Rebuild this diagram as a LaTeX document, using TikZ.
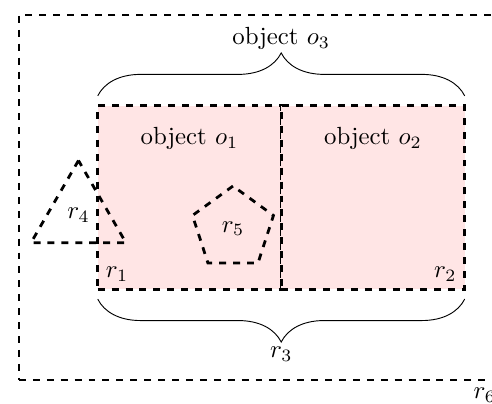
\RequirePackage{fix-cm}
\documentclass[tikz,border=0pt]{standalone}
\usetikzlibrary{shapes.geometric, positioning, decorations.pathreplacing}

\begin{document}
\begin{tikzpicture}[
        font=\fontsize{10.7}{12.8}\selectfont,
        region/.style={draw, very thick, dashed, inner sep=0pt, outer sep=0pt},
        box/.style={region, rectangle, fill=red!10, minimum width=2.78cm, minimum height=2.78cm},
        poly/.style={region, regular polygon},
        bracebig/.style={decorate, decoration={brace, amplitude=0.65cm, raise=0.15cm}}
    ]
    \useasboundingbox (0,0) rectangle (7.455,-6.121);

    \node[region, rectangle, minimum width=7.35cm, minimum height=5.53cm] (r6) at (3.962,-2.992) {};
    \node[box] (r1) at (2.871,-2.992) {};
    \node[box, right=0cm of r1] (r2) {};
    \node[poly, regular polygon sides=3, minimum size=1.66cm] (r4) at (1.189,-3.262) {$r_4$};
    \node[poly, regular polygon sides=5, minimum size=1.29cm] (r5) at (3.530,-3.464) {$r_5$};

    \node[below=0.2cm of r1.north] (o1) {object $o_1$};
    \node[below=0.2cm of r2.north] (o2) {object $o_2$};
    \node[above right] (l1) at (r1.south west) {$r_1$};
    \node[above left] (l2) at (r2.south east) {$r_2$};
    \node[below left] (l6) at (r6.south east) {$r_6$};

    \draw[bracebig] (r1.north west) -- (r2.north east);
    \draw[bracebig] (r2.south east) -- (r1.south west);
    \node[above=0.72cm of r1.north east] (o3) {object $o_3$};
    \node[below=0.75cm of r1.south east] (r3) {$r_3$};

    \end{tikzpicture}
\end{document}
